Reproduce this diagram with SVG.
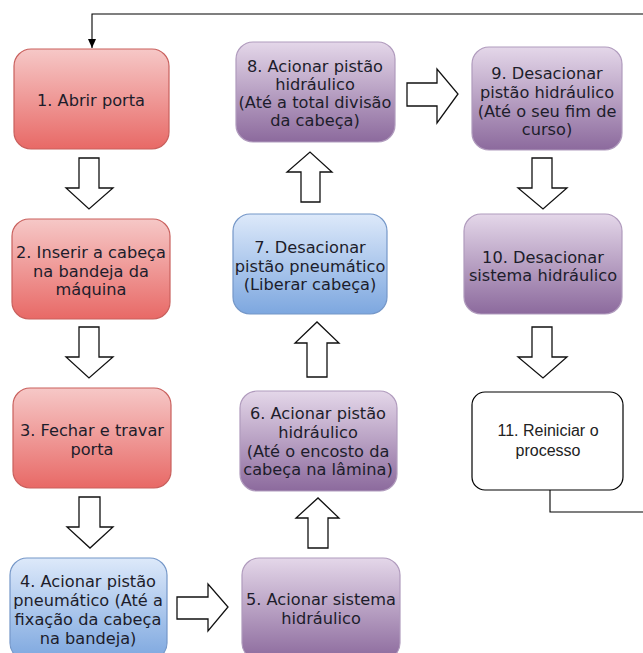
<svg xmlns="http://www.w3.org/2000/svg" width="643" height="653" viewBox="0 0 643 653">
<defs>
<linearGradient id="gRed" x1="0" y1="0" x2="0" y2="1"><stop offset="0" stop-color="#f6c8c7"/><stop offset="1" stop-color="#e86966"/></linearGradient>
<linearGradient id="gBlue" x1="0" y1="0" x2="0" y2="1"><stop offset="0" stop-color="#dde9fa"/><stop offset="1" stop-color="#7da7df"/></linearGradient>
<linearGradient id="gPur" x1="0" y1="0" x2="0" y2="1"><stop offset="0" stop-color="#e4d7e9"/><stop offset="1" stop-color="#8c6a9d"/></linearGradient>
<marker id="ah" markerWidth="10" markerHeight="10" refX="9" refY="5" orient="auto" markerUnits="userSpaceOnUse"><path d="M0,1 L9,5 L0,9 Z" fill="#000"/></marker>
</defs>
<style>
.red{fill:url(#gRed);stroke:#c9605d;stroke-width:1.2}
.blue{fill:url(#gBlue);stroke:#7597c8;stroke-width:1.2}
.pur{fill:url(#gPur);stroke:#b09bbd;stroke-width:1.2}
.wht{fill:#fff;stroke:#000;stroke-width:1.2}
text{font-family:"DejaVu Sans",Verdana,sans-serif;font-size:16.2px;fill:#1d1d2b;text-anchor:middle}
text.ar{font-family:"Liberation Sans",Arial,sans-serif;font-size:16px;fill:#222}
.blk{fill:#fff;stroke:#111;stroke-width:1.3;stroke-linejoin:miter}
.ln{fill:none;stroke:#000;stroke-width:1.1}
</style>

<g id="connectors">
<polyline class="ln" points="643,14 92,14 92,48" marker-end="url(#ah)"/>
<polyline class="ln" points="550,490 550,512 643,512"/>
<path class="blk" d="M79,158 H99 V188 H113 L89,209 L66,188 H79 Z"/>
<path class="blk" d="M79,327 H99 V357 H113 L89,378 L66,357 H79 Z"/>
<path class="blk" d="M79,497 H100 V527 H113 L90,548 L67,527 H79 Z"/>
<path class="blk" d="M177,597 H208 V584 L228,607 L208,631 V619 H177 Z"/>
<path class="blk" d="M308,548 V518 H296 L318,498 L339,518 H328 V548 Z"/>
<path class="blk" d="M307,377 V343 H295 L317,322 L339,343 H327 V377 Z"/>
<path class="blk" d="M301,202 V172 H287 L310,152 L332,172 H320 V202 Z"/>
<path class="blk" d="M407,83 H437 V69 L458,94 L437,123 V106 H407 Z"/>
<path class="blk" d="M532,158 H552 V188 H567 L543,209 L518,188 H532 Z"/>
<path class="blk" d="M532,327 H552 V357 H567 L543,378 L518,357 H532 Z"/>
</g>

<g id="n1"><rect class="red" x="14" y="49" width="155" height="100" rx="17"/>
<text x="91" y="106">1. Abrir porta</text></g>

<g id="n2"><rect class="red" x="12" y="219" width="158" height="100" rx="17"/>
<text x="91" y="258">2. Inserir a cabeça</text><text x="91" y="277">na bandeja da</text><text x="91" y="295">máquina</text></g>

<g id="n3"><rect class="red" x="13" y="388" width="158" height="100" rx="17"/>
<text x="92" y="436">3. Fechar e travar</text><text x="92" y="455">porta</text></g>

<g id="n4"><rect class="blue" x="10" y="558" width="157" height="102" rx="17"/>
<text x="88" y="587">4. Acionar pistão</text><text x="88" y="606">pneumático (Até a</text><text x="88" y="625">fixação da cabeça</text><text x="88" y="644">na bandeja)</text></g>

<g id="n5"><rect class="pur" x="242" y="558" width="158" height="102" rx="17"/>
<text x="321" y="605">5. Acionar sistema</text><text x="321" y="624">hidráulico</text></g>

<g id="n6"><rect class="pur" x="240" y="391" width="157" height="100" rx="17"/>
<text x="318" y="419">6. Acionar pistão</text><text x="318" y="438">hidráulico</text><text x="318" y="457">(Até o encosto da</text><text x="318" y="475">cabeça na lâmina)</text></g>

<g id="n7"><rect class="blue" x="233" y="214" width="154" height="100" rx="17"/>
<text x="310" y="253">7. Desacionar</text><text x="310" y="272">pistão pneumático</text><text x="310" y="290">(Liberar cabeça)</text></g>

<g id="n8"><rect class="pur" x="236" y="42" width="159" height="100" rx="17"/>
<text x="315" y="72">8. Acionar pistão</text><text x="315" y="90">hidráulico</text><text x="315" y="108">(Até a total divisão</text><text x="315" y="126">da cabeça)</text></g>

<g id="n9"><rect class="pur" x="472" y="47" width="150" height="103" rx="17"/>
<text x="547" y="79">9. Desacionar</text><text x="547" y="98">pistão hidráulico</text><text x="547" y="117">(Até o seu fim de</text><text x="547" y="135">curso)</text></g>

<g id="n10"><rect class="pur" x="464" y="214" width="158" height="100" rx="17"/>
<text x="543" y="263">10. Desacionar</text><text x="543" y="281">sistema hidráulico</text></g>

<g id="n11"><rect class="wht" x="472" y="392" width="151" height="98" rx="13"/>
<text class="ar" x="548" y="436">11. Reiniciar o</text><text class="ar" x="548" y="456">processo</text></g>
</svg>
